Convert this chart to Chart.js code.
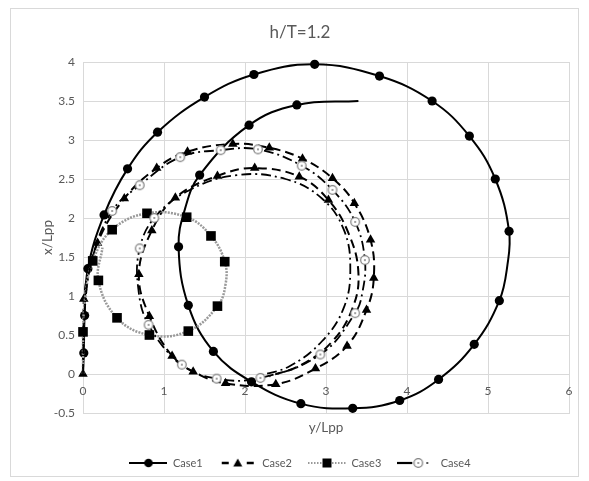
<!DOCTYPE html>
<html>
<head>
<meta charset="utf-8">
<title>h/T=1.2</title>
<script src="https://cdn.jsdelivr.net/npm/chart.js@4.4.1/dist/chart.umd.min.js"></script>
<style>
  html, body { margin: 0; padding: 0; background: #fff; }
  #wrap  { position: relative; width: 589px; height: 481px; }
  #frame { position: absolute; left: 10px; top: 8px; width: 569px; height: 469px;
           border: 1px solid #d9d9d9; box-sizing: border-box; }
  #chart { position: absolute; left: 0; top: 0; }
</style>
</head>
<body>
<div id="wrap">
  <div id="frame"></div>
  <canvas id="chart" width="589" height="481"></canvas>
</div>
<script>
// ─── DATA ───────────────────────────────────────────
const xTicks = [0, 1, 2, 3, 4, 5, 6];
const yTicks = [-0.5, 0, 0.5, 1, 1.5, 2, 2.5, 3, 3.5, 4];

// Case1 — solid line, filled circles
const case1X = [0, 0.01, 0.02, 0.06, 0.26, 0.55, 0.92, 1.50, 2.11, 2.86, 3.66, 4.31, 4.77, 5.09, 5.26, 5.24,
                5.14, 4.83, 4.39, 3.91, 3.33, 2.69, 2.08, 1.61, 1.30, 1.18, 1.26, 1.44, 2.05, 2.64, 3.40];
const case1Y = [0, 0.27, 0.75, 1.35, 2.04, 2.63, 3.10, 3.55, 3.84, 3.97, 3.82, 3.50, 3.05, 2.50, 1.83, 1.40,
                0.94, 0.38, -0.07, -0.34, -0.44, -0.38, -0.10, 0.29, 0.88, 1.63, 2.12, 2.55, 3.19, 3.45, 3.50];
const case1Marked = [0,1,1,1,1,1,1,1,1,1,1,1,1,1,1,0,1,1,1,1,1,1,1,1,1,1,0,1,1,1,0];

// Case2 — dashed line, triangles
const case2X = [0, 0.01, 0.18, 0.51, 0.91, 1.29, 1.85, 2.30, 2.71, 3.08, 3.35, 3.55, 3.59, 3.50, 3.26, 2.87, 2.38,
                1.76, 1.36, 1.10, 0.82, 0.69, 0.85, 1.14, 1.66, 2.12, 2.67, 3.03, 3.28, 3.40, 3.33, 3.08, 2.70, 2.30];
const case2Y = [0, 0.96, 1.68, 2.25, 2.64, 2.85, 2.95, 2.90, 2.76, 2.51, 2.19, 1.72, 1.23, 0.82, 0.36, 0.07, -0.13,
                -0.12, 0.03, 0.23, 0.74, 1.28, 1.84, 2.26, 2.54, 2.64, 2.53, 2.23, 1.80, 1.30, 0.85, 0.42, 0.12, -0.03];
const case2Marked = [1,1,1,1,1,1,1,1,1,1,1,1,1,1,1,1,1,1,1,1,1,1,1,1,1,1,1,1,0,0,0,0,0,0];

// Case3 — grey dotted line, squares
const case3X = [0, 0, 0.03, 0.12, 0.36, 0.79, 1.28, 1.58, 1.75, 1.76, 1.66, 1.30, 0.82, 0.42, 0.19, 0.24];
const case3Y = [0, 0.54, 1.00, 1.45, 1.85, 2.06, 2.01, 1.77, 1.44, 1.15, 0.87, 0.55, 0.50, 0.72, 1.20, 1.62];
const case3Marked = [0,1,0,1,1,1,1,1,1,0,1,1,1,1,1,0];

// Case4 — dash-dot line, dotted circles
const case4X = [0, 0.02, 0.12, 0.36, 0.70, 1.20, 1.70, 2.16, 2.70, 3.08, 3.36, 3.48, 3.45, 3.36, 2.93, 2.19,
                1.65, 1.22, 0.81, 0.68, 0.70, 0.88, 1.30, 1.90, 2.50, 2.95, 3.22, 3.30, 3.22, 2.95, 2.55, 2.15];
const case4Y = [0, 0.80, 1.50, 2.09, 2.42, 2.78, 2.87, 2.88, 2.67, 2.36, 1.95, 1.46, 1.05, 0.78, 0.25, -0.05,
                -0.06, 0.12, 0.63, 1.12, 1.61, 2.00, 2.35, 2.55, 2.50, 2.25, 1.85, 1.35, 0.85, 0.42, 0.10, -0.03];
const case4Marked = [0,0,0,1,1,1,1,1,1,1,1,1,0,1,1,1,1,1,1,0,1,1,0,0,0,0,0,0,0,0,0,0];

const seriesNames = ['Case1', 'Case2', 'Case3', 'Case4'];

// ─── HELPERS ────────────────────────────────────────
const TEXT = '#595959';
const GRID = '#d9d9d9';
Chart.defaults.font.family = 'Lato, "Open Sans", sans-serif';
Chart.defaults.color = TEXT;

function pts(xs, ys) { return xs.map((x, i) => ({ x, y: ys[i] })); }
function radii(flags, r) { return flags.map(f => (f ? r : 0)); }

function makeCanvas(w, h, draw) {
  const c = document.createElement('canvas');
  c.width = w; c.height = h;
  draw(c.getContext('2d'));
  return c;
}

function dotCircle(ctx, x, y) {
  ctx.setLineDash([]);
  ctx.beginPath();
  ctx.arc(x, y, 4.3, 0, Math.PI * 2);
  ctx.fillStyle = '#fff';
  ctx.fill();
  ctx.lineWidth = 1.2;
  ctx.strokeStyle = '#7f7f7f';
  ctx.stroke();
  ctx.beginPath();
  ctx.arc(x, y, 1, 0, Math.PI * 2);
  ctx.fillStyle = '#7f7f7f';
  ctx.fill();
}

// marker for Case4 points
const case4Marker = makeCanvas(12, 12, ctx => dotCircle(ctx, 6, 6));

// legend icons: line sample with marker in the middle
const legendIcons = [
  makeCanvas(38, 12, ctx => {
    ctx.strokeStyle = '#000'; ctx.lineWidth = 2;
    ctx.beginPath(); ctx.moveTo(0, 6); ctx.lineTo(38, 6); ctx.stroke();
    ctx.beginPath(); ctx.arc(19, 6, 4.3, 0, Math.PI * 2); ctx.fillStyle = '#000'; ctx.fill();
  }),
  makeCanvas(38, 12, ctx => {
    ctx.strokeStyle = '#000'; ctx.lineWidth = 2.5;
    ctx.beginPath(); ctx.moveTo(3, 6); ctx.lineTo(10, 6); ctx.moveTo(28, 6); ctx.lineTo(35, 6); ctx.stroke();
    ctx.beginPath(); ctx.moveTo(19, 1.5); ctx.lineTo(23.5, 9.5); ctx.lineTo(14.5, 9.5); ctx.closePath();
    ctx.fillStyle = '#000'; ctx.fill();
  }),
  makeCanvas(38, 12, ctx => {
    ctx.strokeStyle = '#999'; ctx.lineWidth = 2; ctx.setLineDash([1.5, 1.5]);
    ctx.beginPath(); ctx.moveTo(0, 6); ctx.lineTo(38, 6); ctx.stroke();
    ctx.fillStyle = '#000'; ctx.fillRect(14.5, 1.5, 9, 9);
  }),
  makeCanvas(38, 12, ctx => {
    ctx.strokeStyle = '#000'; ctx.lineWidth = 2.2;
    ctx.beginPath(); ctx.moveTo(0, 6); ctx.lineTo(15, 6); ctx.stroke();
    dotCircle(ctx, 21, 6);
    ctx.fillStyle = '#555'; ctx.fillRect(29, 5, 2, 2);
  }),
];

// ─── PLUGINS ────────────────────────────────────────
// Excel puts the horizontal axis labels where the axis crosses y = 0
const labelsAtZero = {
  id: 'labelsAtZero',
  beforeDatasetsDraw(chart) {
    const { ctx, scales: { x, y } } = chart;
    const yPix = y.getPixelForValue(0) + 17;
    ctx.save();
    ctx.font = '12px Lato, "Open Sans", sans-serif';
    ctx.fillStyle = TEXT;
    ctx.textAlign = 'center';
    ctx.textBaseline = 'middle';
    xTicks.forEach(v => ctx.fillText(String(v), x.getPixelForValue(v), yPix));
    ctx.restore();
  }
};

// ─── CHART ──────────────────────────────────────────
const common = { showLine: true, tension: 0.4, clip: 8, pointBorderWidth: 0, pointHoverRadius: 0 };

new Chart(document.getElementById('chart'), {
  type: 'scatter',
  data: {
    datasets: [
      { ...common, label: seriesNames[0], data: pts(case1X, case1Y), order: 4,
        borderColor: '#000', borderWidth: 2,
        pointStyle: 'circle', pointRadius: radii(case1Marked, 4.6), pointBackgroundColor: '#000' },
      { ...common, label: seriesNames[1], data: pts(case2X, case2Y), order: 3,
        borderColor: '#000', borderWidth: 2, borderDash: [9, 5],
        pointStyle: 'triangle', pointRadius: radii(case2Marked, 5.5), pointBackgroundColor: '#000' },
      { ...common, label: seriesNames[2], data: pts(case3X, case3Y), order: 2,
        borderColor: '#999', borderWidth: 2.5, borderDash: [2, 1.2],
        pointStyle: 'rect', pointRadius: radii(case3Marked, 6.8), pointBackgroundColor: '#000' },
      { ...common, label: seriesNames[3], data: pts(case4X, case4Y), order: 1,
        borderColor: '#000', borderWidth: 1.8, borderDash: [10, 4, 2, 4],
        pointStyle: case4Marker, pointRadius: radii(case4Marked, 5) },
    ],
  },
  options: {
    responsive: false,
    animation: false,
    events: [],
    layout: { padding: { left: 31, right: 20, top: 0, bottom: 2.5 } },
    scales: {
      x: {
        type: 'linear', min: xTicks[0], max: xTicks[xTicks.length - 1],
        grid: { color: GRID, drawTicks: false },
        border: { color: GRID },
        ticks: { display: false, stepSize: 1 },
        title: { display: true, text: 'y/Lpp', color: TEXT, font: { size: 13.5 }, padding: { top: 0, bottom: 5.4 } },
        afterFit: s => { s.height = 28.5; },
      },
      y: {
        type: 'linear', min: yTicks[0], max: yTicks[yTicks.length - 1],
        grid: { color: GRID, drawTicks: false },
        border: { color: GRID },
        ticks: { stepSize: 0.5, padding: 8, color: TEXT, font: { size: 12 },
                 callback: v => String(v) },
        title: { display: true, text: 'x/Lpp', color: TEXT, font: { size: 13.5 }, padding: { top: 8.9, bottom: 0 } },
        afterFit: s => { s.width = 52; },
      },
    },
    plugins: {
      title: {
        display: true, text: 'h/T=1.2', color: TEXT,
        font: { size: 17, weight: 'normal' },
        padding: { top: 22.8, bottom: 18.8 },
      },
      legend: {
        position: 'bottom',
        labels: {
          usePointStyle: true, pointStyleWidth: 38, padding: 16,
          color: TEXT, font: { size: 11 },
          generateLabels: chart => chart.data.datasets.map((ds, i) => ({
            text: ds.label, pointStyle: legendIcons[i], datasetIndex: i,
            fillStyle: 'transparent', strokeStyle: 'transparent', lineWidth: 0, fontColor: TEXT,
          })),
        },
      },
      tooltip: { enabled: false },
    },
  },
  plugins: [labelsAtZero],
});
</script>
</body>
</html>
